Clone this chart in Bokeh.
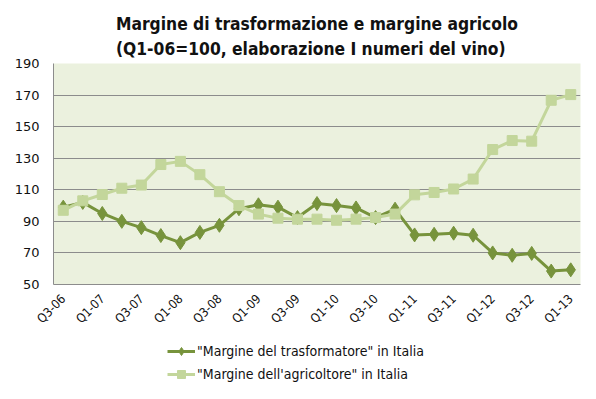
import math
from bokeh.plotting import figure
from bokeh.layouts import column
from bokeh.models import (ColumnDataSource, FixedTicker, Legend, LegendItem, Title, Range1d)
from bokeh.embed import file_html
from bokeh.resources import INLINE

quarters = ["Q3-06", "Q4-06", "Q1-07", "Q2-07", "Q3-07", "Q4-07", "Q1-08", "Q2-08", "Q3-08",
            "Q4-08", "Q1-09", "Q2-09", "Q3-09", "Q4-09", "Q1-10", "Q2-10", "Q3-10", "Q4-10",
            "Q1-11", "Q2-11", "Q3-11", "Q4-11", "Q1-12", "Q2-12", "Q3-12", "Q4-12", "Q1-13"]
trasformatore = [99, 102, 95, 90, 86, 81, 76.5, 83, 87.5, 98, 100.5, 99, 92.4, 101.3, 100,
                 98.5, 92.4, 97.7, 81.4, 81.8, 82.5, 81.2, 70, 68.5, 69.7, 58.5, 59.3]
agricoltore = [97, 103, 107, 111, 113, 126, 128, 119.6, 108.8, 100, 94.6, 92, 91.4, 91.4, 90.7,
               91.4, 92.4, 94.6, 106.8, 108.3, 110.5, 116.8, 135.5, 141.2, 140.8, 166.7, 170.3]
y_ticks = [50, 70, 90, 110, 130, 150, 170, 190]
title_lines = ["Margine di trasformazione e margine agricolo",
               "(Q1-06=100, elaborazione I numeri del vino)"]
series_names = ["\"Margine del trasformatore\" in Italia", "\"Margine dell'agricoltore\" in Italia"]

dark = "#77933C"
light = "#C3D69B"
grid = "#8C8C8C"
cond = "DejaVu Sans Condensed"

idx = list(range(len(quarters)))
src = ColumnDataSource(dict(x=idx, t=trasformatore, a=agricoltore))

p = figure(width=596, height=340, output_backend="svg", toolbar_location=None,
           x_range=Range1d(-0.5, len(quarters) - 0.5), y_range=Range1d(50, 190),
           min_border_left=53, min_border_right=16, min_border_top=63, min_border_bottom=56)
p.background_fill_color = "#EBF1DE"
p.border_fill_color = "white"
p.outline_line_color = None

p.add_layout(Title(text="\n".join(title_lines), align="center", text_font=cond,
                   text_font_size="17.3px", text_font_style="bold", text_color="#111111",
                   text_line_height=1.28, standoff=8), "above")

def draw(fig):
    a = fig.line("x", "t", source=src, line_color=dark, line_width=3)
    b = fig.scatter("x", "t", source=src, marker="diamond", size=14, fill_color=dark, line_color=dark)
    c = fig.line("x", "a", source=src, line_color=light, line_width=3)
    d = fig.scatter("x", "a", source=src, marker="square", size=10, fill_color=light, line_color=light)
    return a, b, c, d

draw(p)

p.xaxis.ticker = FixedTicker(ticks=idx[::2])
p.xaxis.major_label_overrides = {i: quarters[i] for i in idx}
p.xaxis.major_label_orientation = math.pi / 4
p.xaxis.major_tick_line_color = None
p.xaxis.minor_tick_line_color = None
p.xaxis.axis_line_color = grid
p.xaxis.major_label_text_font = cond
p.xaxis.major_label_text_font_size = "12.5px"
p.xaxis.major_label_text_color = "#111111"
p.xaxis.major_label_standoff = 6

p.yaxis.ticker = FixedTicker(ticks=y_ticks)
p.yaxis.major_tick_line_color = None
p.yaxis.minor_tick_line_color = None
p.yaxis.axis_line_color = grid
p.yaxis.major_label_text_font = "DejaVu Sans"
p.yaxis.major_label_text_font_size = "13px"
p.yaxis.major_label_text_color = "#111111"
p.yaxis.major_label_standoff = 8

p.xgrid.grid_line_color = None
p.ygrid.grid_line_color = grid
p.ygrid.grid_line_width = 1

# legend strip below the chart (renderers lie outside its ranges, only the legend shows)
pl = figure(width=596, height=59, output_backend="svg", toolbar_location=None,
            x_range=Range1d(1000, 1001), y_range=Range1d(1000, 1001),
            min_border=0)
pl.axis.visible = False
pl.grid.visible = False
pl.outline_line_color = None
pl.background_fill_color = "white"
pl.border_fill_color = "white"
r1, r2, r3, r4 = draw(pl)
legend = Legend(items=[LegendItem(label=series_names[0], renderers=[r1, r2]),
                       LegendItem(label=series_names[1], renderers=[r3, r4])],
                orientation="vertical", location=(114, 15),
                label_text_font=cond, label_text_font_size="14px",
                label_text_color="#111111", glyph_width=28, glyph_height=20,
                label_height=20, spacing=3, padding=0, margin=0, border_line_color=None,
                background_fill_alpha=0, label_standoff=2)
pl.add_layout(legend, "center")

open("out.html", "w").write(file_html(column(p, pl, spacing=0), INLINE))
